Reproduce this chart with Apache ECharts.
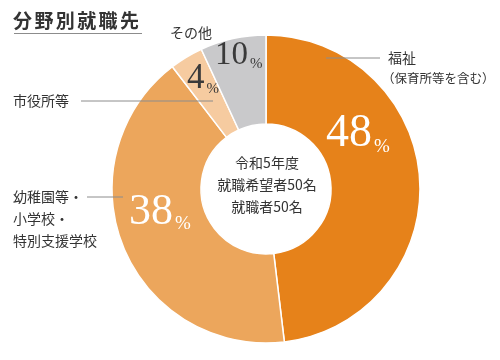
<!DOCTYPE html>
<html>
<head>
<meta charset="utf-8">
<script src="https://cdn.jsdelivr.net/npm/echarts@6/dist/echarts.min.js"></script>
<style>
html,body{margin:0;padding:0;background:#fff;}
#c{width:500px;height:360px;}
</style>
</head>
<body>
<div id="c"></div>
<script>
// ---- data ----
const categories = ['福祉', '幼稚園等・小学校・特別支援学校', '市役所等', 'その他'];
const categoryLabels = ['{a|福祉}\n{b|（保育所等を含む）}', '幼稚園等・\n小学校・\n特別支援学校', '市役所等', 'その他'];
// percentages printed on the slices
const values = [48, 38, 4, 10];
// slice sizes as actually drawn in the picture
const drawnShares = [48.1, 41.5, 3.5, 6.9];
const titleText = '分野別就職先';
const centerLines = ['令和5年度', '就職希望者50名', '就職者50名'];

// ---- styling / layout ----
const colors = ['#E6821A', '#ECA65C', '#F6CBA0', '#C9C9CB'];
const pctColors = ['#ffffff', '#ffffff', '#3a3a3a', '#3a3a3a'];
const pctBig = [46, 44, 35, 33];
const pctSmall = [19, 19, 15, 15];
const pctPos = [[326, 134], [129, 212], [187, 79], [215, 55]];
const namePos = [[382, 48], [13, 186], [13, 90], [170, 22]];
const nameLines = [
  [[380, 58], [353, 58], [326, 58]],
  [[123, 197], [105, 197], [87, 197]],
  [[213, 101], [150, 101], [81, 101]],
  null
];
const CJK = '"Noto Sans CJK JP", "Noto Sans", sans-serif';
const SERIF = '"Liberation Serif", "DejaVu Serif", serif';

const chart = echarts.init(document.getElementById('c'));

const pieData = drawnShares.map((s, i) => ({
  value: s,
  name: categories[i],
  itemStyle: { color: colors[i] },
  label: {
    formatter: '{n' + i + '|' + values[i] + '}{p' + i + '|%}'
  }
}));

const rich = {};
values.forEach((v, i) => {
  rich['n' + i] = { fontFamily: SERIF, fontSize: pctBig[i], color: pctColors[i], lineHeight: pctBig[i] };
  rich['p' + i] = { fontFamily: SERIF, fontSize: pctSmall[i], color: pctColors[i], verticalAlign: 'bottom', lineHeight: pctBig[i] * 0.75, padding: [0, 0, 0, 2] };
});

const nameData = drawnShares.map((s, i) => ({
  value: s,
  name: categories[i],
  labelLine: { show: nameLines[i] !== null }
}));

const titleRich = '{c|' + titleText.split('').join('}{c|') + '}';

chart.setOption({
  animation: false,
  backgroundColor: '#ffffff',
  series: [
    {
      type: 'pie',
      z: 2,
      center: [266, 189],
      radius: [65, 154],
      startAngle: 90,
      clockwise: true,
      silent: true,
      itemStyle: { borderColor: '#ffffff', borderWidth: 1.5 },
      label: { show: true, position: 'inside', rich: rich },
      labelLine: { show: false },
      labelLayout: function (p) {
        return { x: pctPos[p.dataIndex][0], y: pctPos[p.dataIndex][1], align: 'left', verticalAlign: 'middle' };
      },
      emphasis: { disabled: true },
      data: pieData
    },
    {
      type: 'pie',
      z: 5,
      center: [266, 189],
      radius: [65, 154],
      startAngle: 90,
      clockwise: true,
      silent: true,
      itemStyle: { color: 'rgba(0,0,0,0)', borderWidth: 0 },
      label: {
        show: true,
        position: 'outside',
        overflow: 'none',
        formatter: function (p) { return categoryLabels[p.dataIndex]; },
        fontFamily: CJK,
        fontSize: 14,
        lineHeight: 22,
        color: '#333333',
        rich: {
          a: { fontFamily: CJK, fontSize: 14, lineHeight: 20, color: '#333333', padding: [0, 0, 0, 6] },
          b: { fontFamily: CJK, fontSize: 12.5, lineHeight: 20, color: '#333333' }
        }
      },
      labelLine: { show: true, maxSurfaceAngle: 180, minTurnAngle: 0, lineStyle: { color: '#8c8c8c', width: 1 } },
      labelLayout: function (p) {
        const r = { x: namePos[p.dataIndex][0], y: namePos[p.dataIndex][1], align: 'left', verticalAlign: 'top' };
        if (nameLines[p.dataIndex]) r.labelLinePoints = nameLines[p.dataIndex];
        return r;
      },
      emphasis: { disabled: true },
      data: nameData
    }
  ],
  graphic: [
    {
      type: 'text', left: 13, top: 11,
      style: {
        text: titleRich,
        rich: { c: { fontFamily: CJK, fontSize: 19, fontWeight: 'bold', fill: '#333333', padding: [0, 1.2, 0, 1.2] } }
      }
    },
    {
      type: 'line', shape: { x1: 14, y1: 33.5, x2: 142, y2: 33.5 },
      style: { stroke: '#8c8c8c', lineWidth: 1 }
    },
    {
      type: 'text', x: 267, y: 185,
      style: {
        text: centerLines.join('\n'), fontFamily: CJK, fontSize: 14, lineHeight: 22,
        fill: '#333333', textAlign: 'center', textVerticalAlign: 'middle'
      }
    }
  ]
});
</script>
</body>
</html>
